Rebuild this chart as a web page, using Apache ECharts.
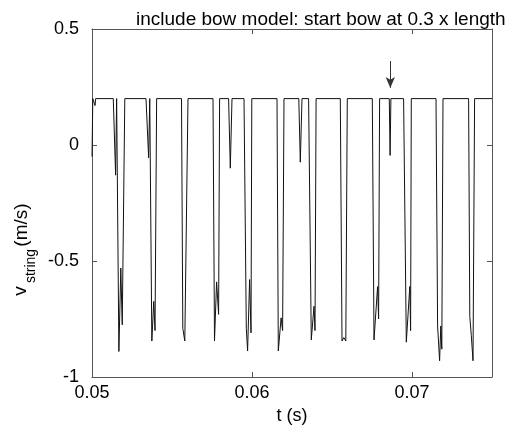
<!DOCTYPE html>
<html>
<head>
<meta charset="utf-8">
<script src="https://cdn.jsdelivr.net/npm/echarts@6/dist/echarts.min.js"></script>
<style>
  html, body { margin: 0; padding: 0; background: #fff; }
  #chart { width: 510px; height: 430px; }
</style>
</head>
<body>
<div id="chart"></div>
<script>
// time (s) and bow-point string velocity (m/s)
const time = [
  0.05, 0.05005, 0.05015, 0.05019, 0.05023,
  0.05133, 0.051475, 0.05154, 0.05168, 0.0518, 0.05189, 0.05205,
  0.053375, 0.05354, 0.05361, 0.05374, 0.05386, 0.05394, 0.05404,
  0.055594, 0.055675, 0.0558, 0.055925, 0.056,
  0.057563, 0.057656, 0.057788, 0.057913, 0.057975,
  0.058538, 0.058644, 0.05875,
  0.0595, 0.059644, 0.059725, 0.05985, 0.059938, 0.059988,
  0.061563, 0.061644, 0.061819, 0.061913, 0.062,
  0.062925, 0.063019, 0.063125,
  0.063538, 0.063706, 0.063875, 0.063938, 0.064006,
  0.065519, 0.065625, 0.065738, 0.065863, 0.065956,
  0.067519, 0.067625, 0.06785, 0.067913, 0.067975,
  0.068581, 0.068631, 0.068681,
  0.069475, 0.069644, 0.069863, 0.069913, 0.069956,
  0.0715, 0.0716, 0.071725, 0.0718, 0.071863, 0.071938,
  0.073538, 0.073613, 0.073706, 0.073813, 0.073913,
  0.075
]
const vString = [
  -0.05, 0.2, 0.2, 0.17, 0.2,
  0.2, -0.13, 0.2, -0.89, -0.53, -0.775, 0.2,
  0.2, -0.055, 0.2, -0.845, -0.674, -0.8, 0.2,
  0.2, -0.79, -0.845, -0.845, 0.2,
  0.2, -0.845, -0.59, -0.73, 0.2,
  0.2, -0.1, 0.2,
  0.2, -0.79, -0.888, -0.58, -0.81, 0.2,
  0.2, -0.888, -0.745, -0.8, 0.2,
  0.2, -0.074, 0.2,
  0.2, -0.84, -0.695, -0.8, 0.2,
  0.2, -0.845, -0.83, -0.845, 0.2,
  0.2, -0.84, -0.61, -0.75, 0.2,
  0.2, -0.045, 0.2,
  0.2, -0.85, -0.61, -0.8, 0.2,
  0.2, -0.78, -0.93, -0.78, -0.88, 0.2,
  0.2, -0.74, -0.82, -0.93, 0.2,
  0.2
]
const xTicks = [0.05, 0.06, 0.07]
const yTicks = [-1, -0.5, 0, 0.5]
// arrow marking the small precursor dip
const arrowFrom = [0.068644, 0.362]
const arrowTo = [0.068644, 0.246]

const font = 'Liberation Sans, Arial, Helvetica, sans-serif'
const axisColor = '#555'

const chart = echarts.init(document.getElementById('chart'))
const tickInside = { show: true, inside: true, length: 5, lineStyle: { color: axisColor } }
const frameLine = { show: true, onZero: false, lineStyle: { color: axisColor } }

chart.setOption({
  animation: false,
  title: {
    text: 'include bow model: start bow at 0.3 x length',
    left: 131,
    top: 5,
    textStyle: { fontFamily: font, fontSize: 19, fontWeight: 'normal', color: '#000' }
  },
  grid: { left: 92, right: 18, top: 29, bottom: 53 },
  xAxis: [
    {
      type: 'value',
      min: xTicks[0],
      max: 0.075,
      interval: 0.01,
      name: 't (s)',
      nameLocation: 'middle',
      nameGap: 28,
      nameTextStyle: { fontFamily: font, fontSize: 18, color: '#000' },
      axisLine: frameLine,
      axisTick: tickInside,
      splitLine: { show: false },
      axisLabel: {
        margin: 7,
        fontFamily: font, fontSize: 18, color: '#000',
        formatter: v => xTicks.some(t => Math.abs(t - v) < 1e-9) ? v.toFixed(2) : ''
      }
    },
    {
      type: 'value',
      position: 'top',
      min: xTicks[0],
      max: 0.075,
      interval: 0.01,
      axisLine: frameLine,
      axisTick: tickInside,
      splitLine: { show: false },
      axisLabel: { show: false }
    }
  ],
  yAxis: [
    {
      type: 'value',
      min: yTicks[0],
      max: yTicks[yTicks.length - 1],
      interval: 0.5,
      axisLine: frameLine,
      axisTick: tickInside,
      splitLine: { show: false },
      axisLabel: {
        margin: 13,
        fontFamily: font, fontSize: 18, color: '#000',
        formatter: v => String(v)
      }
    },
    {
      type: 'value',
      position: 'right',
      min: yTicks[0],
      max: yTicks[yTicks.length - 1],
      interval: 0.5,
      axisLine: frameLine,
      axisTick: tickInside,
      splitLine: { show: false },
      axisLabel: { show: false }
    }
  ],
  graphic: [
    {
      type: 'text', x: 21, y: 291, rotation: Math.PI / 2,
      style: { text: 'v', fontFamily: font, fontSize: 19, fill: '#000', align: 'center', verticalAlign: 'middle' }
    },
    {
      type: 'text', x: 31, y: 266, rotation: Math.PI / 2,
      style: { text: 'string', fontFamily: font, fontSize: 14, fill: '#000', align: 'center', verticalAlign: 'middle' }
    },
    {
      type: 'text', x: 22, y: 225, rotation: Math.PI / 2,
      style: { text: '(m/s)', fontFamily: font, fontSize: 19, fill: '#000', align: 'center', verticalAlign: 'middle' }
    }
  ],
  series: [
    {
      type: 'line',
      data: time.map((t, i) => [t, vString[i]]),
      showSymbol: false,
      symbol: 'none',
      lineStyle: { color: '#111', width: 1 },
      markLine: {
        silent: true,
        symbol: ['none', 'arrow'],
        symbolSize: [7, 11],
        label: { show: false },
        lineStyle: { color: '#333', width: 1, type: 'solid' },
        data: [[{ coord: arrowFrom }, { coord: arrowTo }]]
      }
    }
  ]
})
</script>
</body>
</html>
